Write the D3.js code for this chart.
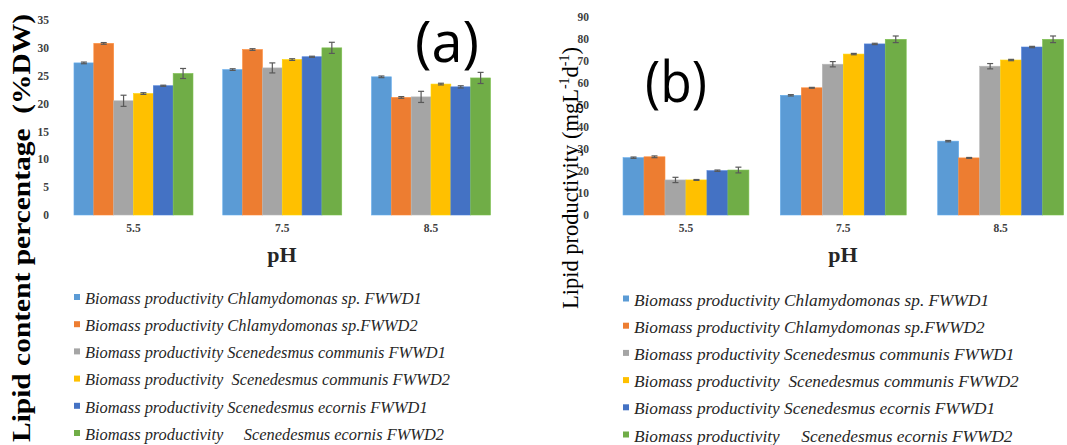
<!DOCTYPE html>
<html><head><meta charset="utf-8">
<script src="https://cdn.jsdelivr.net/npm/d3@7"></script>
<style>body{margin:0;background:#fff}svg{display:block}</style>
</head><body>
<svg id="c" width="1067" height="445"></svg>
<script>
const categories = ["5.5", "7.5", "8.5"];
const seriesNames = [
  "Biomass productivity Chlamydomonas sp. FWWD1",
  "Biomass productivity Chlamydomonas sp.FWWD2",
  "Biomass productivity Scenedesmus communis FWWD1",
  "Biomass productivity  Scenedesmus communis FWWD2",
  "Biomass productivity Scenedesmus ecornis FWWD1",
  "Biomass productivity     Scenedesmus ecornis FWWD2"
];
const colors = ["#5B9BD5", "#ED7D31", "#A5A5A5", "#FFC000", "#4472C4", "#70AD47"];
// panel (a): lipid content, per series, per pH
const lipidContent = [
  [27.3, 26.1, 24.8],
  [30.8, 29.7, 21.1],
  [20.5, 26.4, 21.2],
  [21.8, 27.9, 23.5],
  [23.2, 28.4, 23.0],
  [25.4, 30.0, 24.6]
];
const lipidContentErr = [
  [0.15, 0.15, 0.15],
  [0.15, 0.15, 0.15],
  [1.0, 0.9, 1.0],
  [0.15, 0.15, 0.15],
  [0.1, 0.1, 0.2],
  [0.9, 1.0, 1.0]
];
// panel (b): lipid productivity
const lipidProd = [
  [26.0, 54.3, 33.5],
  [26.4, 57.7, 25.9],
  [15.9, 68.4, 67.5],
  [15.9, 73.0, 70.3],
  [20.1, 77.6, 76.2],
  [20.4, 79.7, 79.7]
];
const lipidProdErr = [
  [0.3, 0.3, 0.3],
  [0.4, 0.2, 0.2],
  [1.2, 1.2, 1.2],
  [0.2, 0.3, 0.3],
  [0.3, 0.3, 0.3],
  [1.3, 1.5, 1.5]
];
const ticksA = [0, 5, 10, 15, 20, 25, 30, 35];
const ticksB = [0, 10, 20, 30, 40, 50, 60, 70, 80, 90];

const svg = d3.select("#c");
const serif = "'Liberation Serif','Times New Roman',serif";

function panel(cfg) {
  const g = svg.append("g");
  const x0 = d3.scaleBand().domain(categories).range(cfg.xr).paddingInner(0.2).paddingOuter(0.1);
  const x1 = d3.scaleBand().domain(d3.range(seriesNames.length)).range([0, x0.bandwidth()]);
  const y = d3.scaleLinear().domain([0, cfg.max]).range([215, cfg.top]);

  const ax = g.append("g").attr("transform", `translate(${cfg.axX},0)`)
    .call(d3.axisLeft(y).tickValues(cfg.ticks).tickSize(0).tickPadding(0).tickFormat(d3.format("d")));
  ax.select(".domain").remove();
  ax.selectAll("text").attr("font-family", serif).attr("font-weight", "bold")
    .attr("font-size", 11.5).attr("fill", "#404040");

  const xa = g.append("g").attr("transform", "translate(0,224)")
    .call(d3.axisBottom(x0).tickSize(0).tickPadding(0));
  xa.select(".domain").remove();
  xa.selectAll("text").attr("font-family", serif).attr("font-weight", "bold")
    .attr("font-size", 11.5).attr("fill", "#404040");

  cfg.vals.forEach((arr, s) => {
    categories.forEach((c, i) => {
      const bx = x0(c) + x1(s);
      g.append("rect").attr("x", bx).attr("y", y(arr[i]))
        .attr("width", x1.bandwidth()).attr("height", y(0) - y(arr[i]))
        .attr("fill", colors[s]).attr("stroke", d3.color(colors[s]).brighter(0.3)).attr("stroke-width", 0.6);
      const e = cfg.err[s][i];
      const cx = bx + x1.bandwidth() / 2;
      const eg = g.append("g").attr("stroke", "#595959").attr("stroke-width", 1.2);
      eg.append("line").attr("x1", cx).attr("x2", cx).attr("y1", y(arr[i] - e)).attr("y2", y(arr[i] + e));
      eg.append("line").attr("x1", cx - 3).attr("x2", cx + 3).attr("y1", y(arr[i] - e)).attr("y2", y(arr[i] - e));
      eg.append("line").attr("x1", cx - 3).attr("x2", cx + 3).attr("y1", y(arr[i] + e)).attr("y2", y(arr[i] + e));
    });
  });

  g.append("text").attr("x", cfg.phX).attr("y", 262).attr("text-anchor", "middle")
    .attr("font-family", serif).attr("font-weight", "bold").attr("font-size", 22).attr("fill", "#262626").text("pH");

  g.append("text").attr("x", cfg.lblX).attr("y", cfg.lblY).attr("text-anchor", "middle")
    .attr("font-family", "'Open Sans','Liberation Sans',sans-serif").attr("font-size", 56).attr("fill", "#000")
    .attr("textLength", cfg.lblW).attr("lengthAdjust", "spacingAndGlyphs").text(cfg.lbl);

  const lg = g.append("g");
  seriesNames.forEach((n, s) => {
    const ly = cfg.legY + s * cfg.legStep;
    lg.append("rect").attr("x", cfg.legX).attr("y", ly - 4).attr("width", 6).attr("height", 6).attr("fill", colors[s]);
    lg.append("text").attr("x", cfg.legX + 11).attr("y", ly).attr("dy", "0.35em")
      .attr("font-family", serif).attr("font-style", "italic").attr("font-size", cfg.legFs)
      .attr("fill", "#262626").attr("xml:space", "preserve").style("white-space", "pre").text(n);
  });
  return g;
}

panel({xr: [59.1, 505.4], max: 35, top: 20, ticks: ticksA, axX: 49, vals: lipidContent, err: lipidContentErr,
  phX: 282, lbl: "(a)", lblX: 447, lblY: 62, lblW: 64, legX: 74, legY: 298, legStep: 27.2, legFs: 16.4});
panel({xr: [607.3, 1079.3], max: 90, top: 16.6, ticks: ticksB, axX: 589, vals: lipidProd, err: lipidProdErr,
  phX: 843, lbl: "(b)", lblX: 676, lblY: 102, lblW: 62, legX: 623, legY: 299.5, legStep: 27.2, legFs: 17.3});

svg.append("text").attr("transform", "translate(30,228) rotate(-90)").attr("text-anchor", "middle")
  .attr("font-family", serif).attr("font-weight", "bold").attr("font-size", 25).attr("fill", "#000")
  .attr("textLength", 428).attr("lengthAdjust", "spacingAndGlyphs")
  .attr("xml:space", "preserve").style("white-space", "pre").text("Lipid content percentage  (%DW)");

const tb = svg.append("text").attr("transform", "translate(578,178) rotate(-90)").attr("text-anchor", "middle")
  .attr("font-family", serif).attr("font-size", 22.5).attr("fill", "#000");
tb.append("tspan").text("Lipid productivity (mgL");
tb.append("tspan").attr("font-size", 14).attr("dy", -9).text("-1");
tb.append("tspan").attr("dy", 9).text("d");
tb.append("tspan").attr("font-size", 14).attr("dy", -9).text("-1");
tb.append("tspan").attr("dy", 9).text(")");
</script>
</body></html>
